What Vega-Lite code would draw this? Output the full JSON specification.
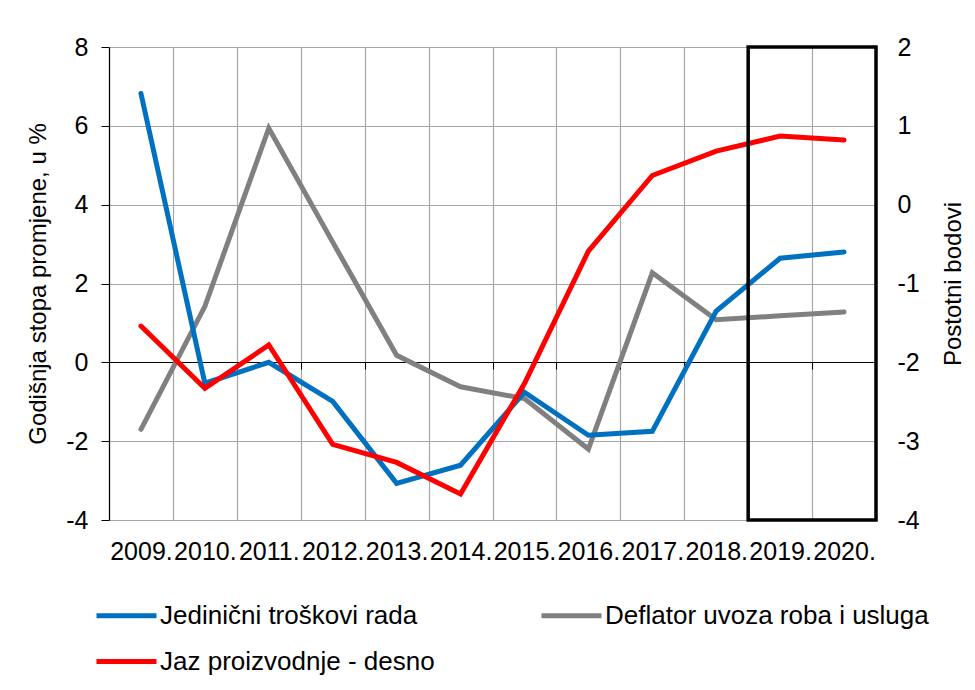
{
  "$schema": "https://vega.github.io/schema/vega-lite/v6.json",
  "width": 767,
  "height": 473,
  "autosize": {"type": "pad"},
  "padding": {"left": 26, "top": 35, "right": 5, "bottom": 5},
  "background": "white",
  "config": {
    "font": "Liberation Sans",
    "view": {"stroke": null},
    "axis": {"labelFont": "Liberation Sans", "titleFont": "Liberation Sans", "labelColor": "black", "titleColor": "black", "titleFontWeight": "normal"},
    "legend": {
      "orient": "none",
      "legendX": -15,
      "legendY": 536,
      "columns": 2,
      "symbolType": "stroke",
      "symbolSize": 3600,
      "symbolStrokeWidth": 5,
      "labelFontSize": 26,
      "labelFont": "Liberation Sans",
      "labelColor": "black",
      "labelOffset": 1,
      "columnPadding": 96,
      "rowPadding": -20,
      "labelLimit": 0
    }
  },
  "data": {
    "values": [
      {"year": "2009.", "series": "Jedinični troškovi rada", "value": 6.82},
      {"year": "2010.", "series": "Jedinični troškovi rada", "value": -0.53},
      {"year": "2011.", "series": "Jedinični troškovi rada", "value": 0.0},
      {"year": "2012.", "series": "Jedinični troškovi rada", "value": -0.99},
      {"year": "2013.", "series": "Jedinični troškovi rada", "value": -3.07},
      {"year": "2014.", "series": "Jedinični troškovi rada", "value": -2.61},
      {"year": "2015.", "series": "Jedinični troškovi rada", "value": -0.76},
      {"year": "2016.", "series": "Jedinični troškovi rada", "value": -1.85},
      {"year": "2017.", "series": "Jedinični troškovi rada", "value": -1.75},
      {"year": "2018.", "series": "Jedinični troškovi rada", "value": 1.3},
      {"year": "2019.", "series": "Jedinični troškovi rada", "value": 2.64},
      {"year": "2020.", "series": "Jedinični troškovi rada", "value": 2.8},
      {"year": "2009.", "series": "Deflator uvoza roba i usluga", "value": -1.7},
      {"year": "2010.", "series": "Deflator uvoza roba i usluga", "value": 1.42},
      {"year": "2011.", "series": "Deflator uvoza roba i usluga", "value": 5.94},
      {"year": "2012.", "series": "Deflator uvoza roba i usluga", "value": 3.05},
      {"year": "2013.", "series": "Deflator uvoza roba i usluga", "value": 0.18},
      {"year": "2014.", "series": "Deflator uvoza roba i usluga", "value": -0.62},
      {"year": "2015.", "series": "Deflator uvoza roba i usluga", "value": -0.92},
      {"year": "2016.", "series": "Deflator uvoza roba i usluga", "value": -2.2},
      {"year": "2017.", "series": "Deflator uvoza roba i usluga", "value": 2.27},
      {"year": "2018.", "series": "Deflator uvoza roba i usluga", "value": 1.08},
      {"year": "2019.", "series": "Deflator uvoza roba i usluga", "value": 1.18},
      {"year": "2020.", "series": "Deflator uvoza roba i usluga", "value": 1.28},
      {"year": "2009.", "series": "Jaz proizvodnje - desno", "value": -1.54},
      {"year": "2010.", "series": "Jaz proizvodnje - desno", "value": -2.33},
      {"year": "2011.", "series": "Jaz proizvodnje - desno", "value": -1.78},
      {"year": "2012.", "series": "Jaz proizvodnje - desno", "value": -3.04},
      {"year": "2013.", "series": "Jaz proizvodnje - desno", "value": -3.27},
      {"year": "2014.", "series": "Jaz proizvodnje - desno", "value": -3.67},
      {"year": "2015.", "series": "Jaz proizvodnje - desno", "value": -2.27},
      {"year": "2016.", "series": "Jaz proizvodnje - desno", "value": -0.59},
      {"year": "2017.", "series": "Jaz proizvodnje - desno", "value": 0.37},
      {"year": "2018.", "series": "Jaz proizvodnje - desno", "value": 0.68},
      {"year": "2019.", "series": "Jaz proizvodnje - desno", "value": 0.87},
      {"year": "2020.", "series": "Jaz proizvodnje - desno", "value": 0.82}
    ]
  },
  "layer": [
    {
      "transform": [{"filter": "datum.series !== 'Jaz proizvodnje - desno'"}],
      "layer": [
        {
          "transform": [{"filter": "datum.series === 'Deflator uvoza roba i usluga'"}],
          "mark": {"type": "line", "strokeWidth": 5, "strokeCap": "round"},
          "encoding": {
            "x": {
              "field": "year", "type": "ordinal", "sort": null,
              "scale": {"paddingInner": 0, "paddingOuter": 0},
              "axis": {"orient": "bottom", "title": null, "labelAngle": 0, "labelFontSize": 25, "labelPadding": 19, "domain": false, "ticks": false, "tickSize": 0, "grid": true, "tickBand": "extent", "gridColor": "#A6A6A6", "gridWidth": 1.2, "gridOpacity": 1}
            },
            "y": {
              "field": "value", "type": "quantitative",
              "scale": {"domain": [-4, 8], "nice": false, "zero": false},
              "axis": {"title": "Godišnja stopa promjene, u %", "titleFontSize": 24, "titlePadding": 15, "values": [-4, -2, 0, 2, 4, 6, 8], "labelExpr": "'' + datum.value", "labelFontSize": 25, "labelPadding": 13, "domainColor": "black", "domainWidth": 1.2, "tickColor": "black", "tickSize": 8, "grid": true, "gridColor": "#A6A6A6", "gridWidth": 1.2, "gridOpacity": 1}
            },
            "color": {
              "field": "series", "type": "nominal", "title": null,
              "scale": {"domain": ["Jedinični troškovi rada", "Deflator uvoza roba i usluga", "Jaz proizvodnje - desno"], "range": ["#0070C0", "#808080", "#FF0000"]},
              "legend": {"values": ["Jedinični troškovi rada", "Jaz proizvodnje - desno", "Deflator uvoza roba i usluga"]}
            }
          }
        },
        {
          "transform": [{"filter": "datum.series === 'Jedinični troškovi rada'"}],
          "mark": {"type": "line", "strokeWidth": 5, "strokeCap": "round"},
          "encoding": {
            "x": {"field": "year", "type": "ordinal", "sort": null},
            "y": {"field": "value", "type": "quantitative"},
            "color": {
              "field": "series", "type": "nominal",
              "scale": {"domain": ["Jedinični troškovi rada", "Deflator uvoza roba i usluga", "Jaz proizvodnje - desno"], "range": ["#0070C0", "#808080", "#FF0000"]}
            }
          }
        }
      ]
    },
    {
      "transform": [{"filter": "datum.series === 'Jaz proizvodnje - desno'"}],
      "mark": {"type": "line", "strokeWidth": 5, "strokeCap": "round"},
      "encoding": {
        "x": {
          "field": "year", "type": "ordinal", "sort": null,
          "axis": {"orient": "bottom", "title": null, "labels": false, "offset": -158, "domain": true, "domainColor": "black", "domainWidth": 1.2, "ticks": true, "tickColor": "black", "tickSize": 7, "tickBand": "extent", "grid": false}
        },
        "y": {
          "field": "value", "type": "quantitative",
          "scale": {"domain": [-4, 2], "nice": false, "zero": false},
          "axis": {"orient": "right", "title": "Postotni bodovi", "titleFontSize": 24, "titleAngle": 270, "titlePadding": 46, "values": [-4, -3, -2, -1, 0, 1, 2], "labelExpr": "'' + datum.value", "labelFontSize": 25, "labelPadding": 21, "domain": false, "ticks": false, "grid": false}
        },
        "color": {
          "field": "series", "type": "nominal",
          "scale": {"domain": ["Jedinični troškovi rada", "Deflator uvoza roba i usluga", "Jaz proizvodnje - desno"], "range": ["#0070C0", "#808080", "#FF0000"]}
        }
      }
    },
    {
      "data": {"values": [{"from": "2019.", "to": "2020."}]},
      "mark": {"type": "rect", "filled": false, "stroke": "black", "strokeWidth": 3.5},
      "encoding": {
        "x": {"field": "from", "type": "ordinal", "bandPosition": 0, "axis": null},
        "x2": {"field": "to", "bandPosition": 1}
      }
    }
  ],
  "resolve": {"scale": {"y": "independent"}, "axis": {"x": "independent"}}
}
